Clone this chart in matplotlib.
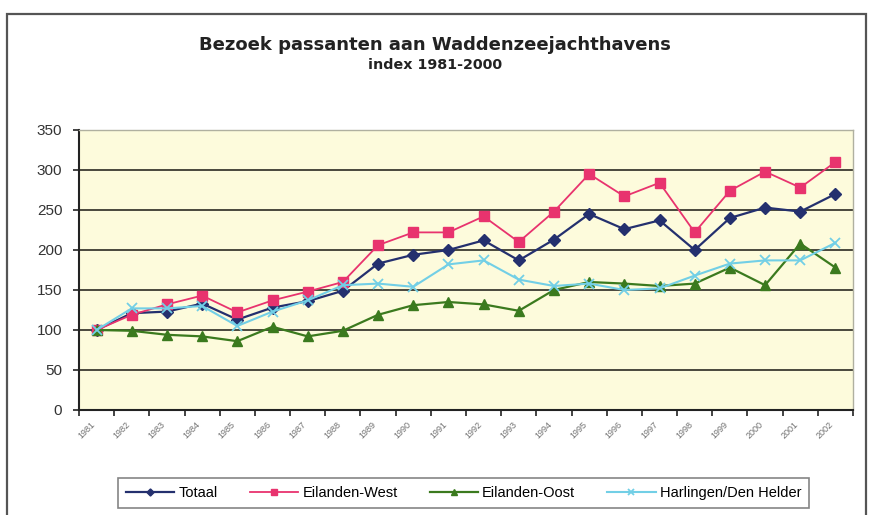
import matplotlib.pyplot as plt
from matplotlib.patches import Rectangle
from matplotlib.ticker import MultipleLocator, FixedLocator

years = [str(y) for y in range(1981, 2003)]
totaal = [100, 121, 123, 133, 113, 128, 136, 149, 183, 194, 200, 212,
          187, 213, 245, 226, 237, 200, 240, 253, 248, 270]
eilanden_west = [100, 119, 132, 143, 122, 137, 148, 160, 206, 222, 222, 242,
                 210, 248, 295, 267, 284, 222, 274, 298, 278, 310]
eilanden_oost = [100, 99, 94, 92, 86, 104, 92, 99, 119, 131, 135, 132,
                 124, 150, 160, 158, 155, 158, 178, 156, 208, 178]
harlingen = [100, 127, 127, 130, 105, 123, 137, 156, 158, 154, 182, 187,
             163, 155, 158, 150, 152, 168, 183, 187, 187, 209]

plt.rcParams['font.family'] = ['Liberation Sans', 'DejaVu Sans']

fig = plt.figure(figsize=(8.7, 5.15), dpi=100)
ax = fig.add_axes([0.0908, 0.2039, 0.8897, 0.5437])
ax.set_facecolor('#fdfbdc')

x = list(range(len(years)))
ax.plot(x, totaal, color='#24306e', lw=1.6, marker='D', ms=6,
        label='Totaal')
ax.plot(x, eilanden_west, color='#e8336e', lw=1.3, marker='s', ms=7,
        label='Eilanden-West')
ax.plot(x, eilanden_oost, color='#3b7a1e', lw=1.6, marker='^', ms=7,
        label='Eilanden-Oost')
ax.plot(x, harlingen, color='#72cfe6', lw=1.5, marker='x', ms=7, mew=1.3,
        label='Harlingen/Den Helder')

ax.set_xlim(-0.5, len(years) - 0.5)
ax.set_ylim(0, 350)
ax.yaxis.set_major_locator(MultipleLocator(50))
ax.grid(axis='y', color='#2a2a22', lw=1.2)
ax.set_axisbelow(True)

# labels centred on categories, tick marks between them
ax.set_xticks(x)
ax.set_xticklabels(years, rotation=45, fontsize=6.5, color='#707070',
                   ha='right', va='top')
ax.xaxis.set_minor_locator(FixedLocator([i - 0.5 for i in range(len(years) + 1)]))
ax.tick_params(axis='x', which='major', length=0, pad=7)
ax.tick_params(axis='x', which='minor', length=4, width=1.2, direction='out',
               color='#222222')
ax.tick_params(axis='y', length=4, width=1.2, color='#222222',
               labelsize=11, labelcolor='#333333', pad=8)

for side in ('top', 'right'):
    ax.spines[side].set_color('#b0b0a0')
    ax.spines[side].set_linewidth(1.0)
for side in ('left', 'bottom'):
    ax.spines[side].set_color('#222222')
    ax.spines[side].set_linewidth(1.5)

fig.text(0.4995, 0.912, 'Bezoek passanten aan Waddenzeejachthavens',
         ha='center', va='center', fontsize=13, fontweight='bold',
         color='#222222', family='DejaVu Sans')
fig.text(0.5, 0.873, 'index 1981-2000', ha='center', va='center',
         fontsize=10.3, fontweight='bold', color='#222222',
         family='DejaVu Sans')

leg = ax.legend(loc='center', bbox_to_anchor=(0.533, 0.043),
                bbox_transform=fig.transFigure, ncol=4, fontsize=10.5,
                frameon=True, fancybox=False, edgecolor='#666666',
                handlelength=3.3, columnspacing=2.2, handletextpad=0.3,
                markerscale=0.6, borderpad=0.55)
leg.get_frame().set_linewidth(1.2)

fig.patches.append(Rectangle((7 / 870, -0.05), 859 / 870, 1.0 - 14 / 515 + 0.05,
                             transform=fig.transFigure, fill=False,
                             edgecolor='#555555', lw=1.6))

fig.savefig('out.png', dpi=100)
